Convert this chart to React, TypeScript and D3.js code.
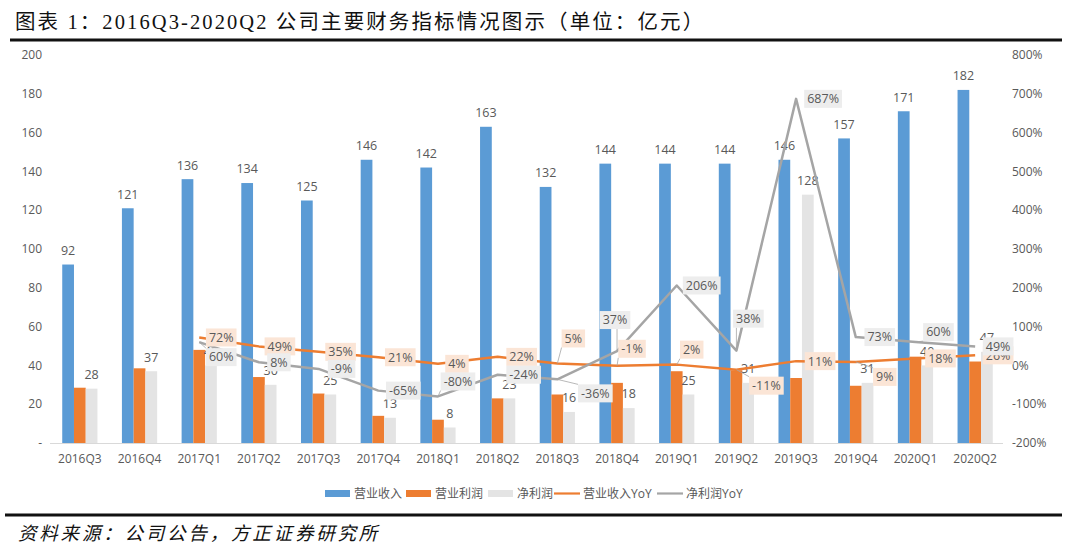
import React from 'react';
import * as d3 from 'd3';

const categories = ['2016Q3','2016Q4','2017Q1','2017Q2','2017Q3','2017Q4','2018Q1','2018Q2','2018Q3','2018Q4','2019Q1','2019Q2','2019Q3','2019Q4','2020Q1','2020Q2'];
const revenue = [92,121,136,134,125,146,142,163,132,144,144,144,146,157,171,182];
const opProfit = [28.5,38.5,48,34,25.5,14,12,23,25,31,37,37.5,33.5,29.5,44.5,42];
const netProfit = [28,37,40,30,25,13,8,23,16,18,25,31,128,31,40,47];
const revenueYoY: (number|null)[] = [null,null,72,49,35,21,4,22,5,-1,2,-11,11,9,18,26];
const netProfitYoY: (number|null)[] = [null,null,60,8,-9,-65,-80,-24,-36,37,206,38,687,73,60,49];
const leftTicks = [0,20,40,60,80,100,120,140,160,180,200];
const rightTicks = [-200,-100,0,100,200,300,400,500,600,700,800];
const seriesNames = ['营业收入','营业利润','净利润','营业收入YoY','净利润YoY'];
const titleText = '图表 1：2016Q3-2020Q2 公司主要财务指标情况图示（单位：亿元）';
const sourceText = '资料来源：公司公告，方正证券研究所';

// label placement offsets (layout only)
const revYoYOffset: [number, number][] = [[0,0],[0,0],[22,0],[21,0],[22,0],[22,0],[19,0],[24,0],[16,-25],[15,-17],[15,-15],[30,16],[24,0],[29,15],[25,0],[23,0]];
const npYoYOffset: [number, number][] = [[0,0],[0,0],[22,15],[20,0],[23,0],[25,0],[20,-15],[26,0],[38,14],[-2,-31],[25,0],[12,-32],[27,0],[24,0],[23,-10],[23,0]];

const W = 1069, H = 556;
const BLUE = '#5b9bd5', ORANGE = '#ed7d31', GREYBAR = '#e4e4e4', GREYLINE = '#a5a5a5', TXT = '#595959';
const FONT = '"Open Sans", "Noto Sans CJK SC", sans-serif';

let ctx: CanvasRenderingContext2D | null = null;
function textWidth(t: string, size: number) {
  if (!ctx) ctx = document.createElement('canvas').getContext('2d');
  if (!ctx) return t.length * size * 0.56;
  ctx.font = `${size}px "Open Sans"`;
  return ctx.measureText(t).width;
}

export default function App() {
  const x = d3.scaleBand<string>().domain(categories).range([50, 1005]).paddingInner(0.41).paddingOuter(0.205);
  const xs = d3.scaleBand<number>().domain([0,1,2]).range([0, x.bandwidth()]);
  const yL = d3.scaleLinear().domain([0, 200]).range([443, 55]);
  const yR = d3.scaleLinear().domain([-200, 800]).range([443, 55]);
  const cx = (i: number) => (x(categories[i]) as number) + x.bandwidth() / 2;

  const lineGen = d3.line<[number, number]>().x(d => d[0]).y(d => d[1]);
  const revPts: [number, number][] = revenueYoY.map((v, i) => v == null ? null : [cx(i), yR(v)] as [number, number]).filter(Boolean) as [number, number][];
  const npPts: [number, number][] = netProfitYoY.map((v, i) => v == null ? null : [cx(i), yR(v)] as [number, number]).filter(Boolean) as [number, number][];

  const series = [revenue, opProfit, netProfit];
  const colors = [BLUE, ORANGE, GREYBAR];

  const labelBox = (v: number | null, i: number, off: [number, number], fill: string, key: string) => {
    if (v == null) return null;
    const t = `${v}%`;
    const px = cx(i), py = yR(v);
    const lx = px + off[0], ly = py + off[1];
    const tw = textWidth(t, 12.5) + 6;
    const bh = 18;
    const leader = Math.abs(off[1]) > 8;
    const lx2 = Math.max(lx - tw / 2, Math.min(px, lx + tw / 2));
    const ly2 = off[1] < 0 ? ly + bh / 2 : ly - bh / 2;
    return (
      <g key={key}>
        {leader && <line x1={px} y1={py} x2={lx2} y2={ly2} stroke="#a6a6a6" strokeWidth={0.8} />}
        <rect x={lx - tw / 2} y={ly - bh / 2} width={tw} height={bh} fill={fill} />
        <text x={lx} y={ly} dy="0.35em" textAnchor="middle" fontSize={12.5} fill={TXT} fontFamily={FONT}>{t}</text>
      </g>
    );
  };

  const legendItems = [
    { x: 325, type: 'rect', color: BLUE, label: seriesNames[0] },
    { x: 406, type: 'rect', color: ORANGE, label: seriesNames[1] },
    { x: 488, type: 'rect', color: GREYBAR, label: seriesNames[2] },
    { x: 554, type: 'line', color: ORANGE, label: seriesNames[3] },
    { x: 657, type: 'line', color: GREYLINE, label: seriesNames[4] },
  ];

  return (
    <svg width={W} height={H} style={{ position: 'absolute', left: 0, top: 0, background: '#fff' }}>
      <rect width={W} height={H} fill="#fff" />
      {/* title */}
      <text x={15} y={29} fontSize={20.5} letterSpacing={2.1} fill="#111" fontFamily='"Liberation Serif", "Noto Sans CJK SC", serif'>{titleText}</text>
      <rect x={10} y={38.5} width={1052} height={3} fill="#111" />
      {/* axes labels */}
      {leftTicks.map(t => (
        <text key={'l' + t} x={42} y={yL(t)} dy="0.35em" textAnchor="end" fontSize={12} fill={TXT} fontFamily={FONT}>{t === 0 ? '-' : t}</text>
      ))}
      {rightTicks.map(t => (
        <text key={'r' + t} x={1012} y={yR(t)} dy="0.35em" textAnchor="start" fontSize={12} fill={TXT} fontFamily={FONT}>{`${t}%`}</text>
      ))}
      {/* bars */}
      {categories.map((c, i) => (
        <g key={c}>
          {series.map((s, k) => (
            <rect key={k} x={(x(c) as number) + (xs(k) as number)} y={yL(s[i])} width={xs.bandwidth()} height={yL(0) - yL(s[i])} fill={colors[k]} />
          ))}
        </g>
      ))}
      <line x1={50} x2={1003} y1={443.5} y2={443.5} stroke="#d9d9d9" strokeWidth={1} />
      {categories.map((c, i) => (
        <text key={'c' + c} x={cx(i)} y={459} dy="0.35em" textAnchor="middle" fontSize={12} fill={TXT} fontFamily={FONT}>{c}</text>
      ))}
      {/* bar labels */}
      {categories.map((c, i) => (
        <g key={'bl' + c}>
          <text x={(x(c) as number) + (xs(0) as number) + xs.bandwidth() / 2} y={yL(revenue[i]) - 14} dy="0.35em" textAnchor="middle" fontSize={12.5} fill={TXT} fontFamily={FONT}>{revenue[i]}</text>
          <text x={(x(c) as number) + (xs(2) as number) + xs.bandwidth() / 2} y={yL(netProfit[i]) - 14} dy="0.35em" textAnchor="middle" fontSize={12.5} fill={TXT} fontFamily={FONT}>{netProfit[i]}</text>
        </g>
      ))}
      {/* lines */}
      <path d={lineGen(revPts) || ''} fill="none" stroke={ORANGE} strokeWidth={2.5} strokeLinejoin="round" />
      <path d={lineGen(npPts) || ''} fill="none" stroke={GREYLINE} strokeWidth={2.5} strokeLinejoin="round" />
      {/* YoY labels */}
      {revenueYoY.map((v, i) => labelBox(v, i, revYoYOffset[i], '#fbe5d6', 'ry' + i))}
      {netProfitYoY.map((v, i) => labelBox(v, i, npYoYOffset[i], '#ededed', 'ny' + i))}
      {/* legend */}
      {legendItems.map(it => (
        <g key={it.label}>
          {it.type === 'rect'
            ? <rect x={it.x} y={490} width={25} height={7} fill={it.color} />
            : <line x1={it.x} x2={it.x + 26} y1={493.5} y2={493.5} stroke={it.color} strokeWidth={2.2} />}
          <text x={it.x + 29} y={493.5} dy="0.35em" fontSize={12} fill={TXT} fontFamily={FONT}>{it.label}</text>
        </g>
      ))}
      {/* footer */}
      <rect x={5} y={513.5} width={1057} height={3} fill="#111" />
      <text x={18} y={540} fontSize={18.5} letterSpacing={2.8} fontStyle="italic" fill="#111" fontFamily='"Noto Sans CJK SC", serif'>{sourceText}</text>
    </svg>
  );
}
